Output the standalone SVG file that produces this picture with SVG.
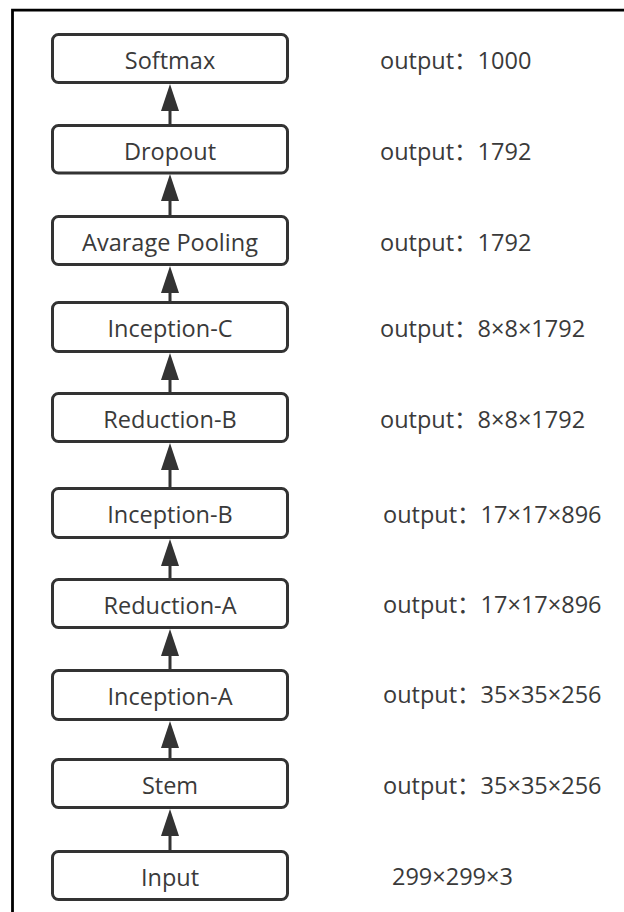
<svg xmlns="http://www.w3.org/2000/svg" width="624" height="912" viewBox="0 0 624 912">
<style>
  .box rect { fill: #ffffff; stroke: #333333; stroke-width: 3; }
  text { font-family: "Open Sans", "Noto Sans CJK SC", sans-serif; font-size: 23.5px; fill: #3a3a3a; }
  .lbl { text-anchor: middle; }
  .conn line { stroke: #333333; stroke-width: 3; }
  .conn polygon { fill: #333333; }
  .frame { stroke: #000000; stroke-width: 2.8; fill: none; }
</style>
<rect x="0" y="0" width="624" height="912" fill="#ffffff"/>
<path class="frame" d="M12.5 912 L12.5 10.2 L624 10.2"/>

<g id="connectors" class="conn">
  <line x1="170" y1="124" x2="170" y2="108"/><polygon points="170,84 161,111 179,111"/>
  <line x1="170" y1="215" x2="170" y2="198"/><polygon points="170,174 161,201 179,201"/>
  <line x1="170" y1="301" x2="170" y2="290"/><polygon points="170,266 161,293 179,293"/>
  <line x1="170" y1="392" x2="170" y2="377"/><polygon points="170,353 161,380 179,380"/>
  <line x1="170" y1="487" x2="170" y2="467"/><polygon points="170,443 161,470 179,470"/>
  <line x1="170" y1="578" x2="170" y2="563"/><polygon points="170,539 161,566 179,566"/>
  <line x1="170" y1="669" x2="170" y2="653"/><polygon points="170,629 161,656 179,656"/>
  <line x1="170" y1="758" x2="170" y2="745"/><polygon points="170,721 161,748 179,748"/>
  <line x1="170" y1="850" x2="170" y2="833"/><polygon points="170,809 161,836 179,836"/>
</g>

<g id="softmax" class="box"><rect x="52.5" y="34.5" width="235" height="48" rx="6"/><text class="lbl" x="170" y="69">Softmax</text></g>
<g id="dropout" class="box"><rect x="52.5" y="125.5" width="235" height="47.5" rx="6"/><text class="lbl" x="170" y="160">Dropout</text></g>
<g id="avgpool" class="box"><rect x="52.5" y="216.5" width="235" height="48" rx="6"/><text class="lbl" x="170" y="251">Avarage Pooling</text></g>
<g id="inception-c" class="box"><rect x="52.5" y="302.5" width="235" height="49" rx="6"/><text class="lbl" x="170" y="337">Inception-C</text></g>
<g id="reduction-b" class="box"><rect x="52.5" y="393.5" width="235" height="48" rx="6"/><text class="lbl" x="170" y="428">Reduction-B</text></g>
<g id="inception-b" class="box"><rect x="52.5" y="488.5" width="235" height="49" rx="6"/><text class="lbl" x="170" y="523">Inception-B</text></g>
<g id="reduction-a" class="box"><rect x="52.5" y="579.5" width="235" height="48" rx="6"/><text class="lbl" x="170" y="614">Reduction-A</text></g>
<g id="inception-a" class="box"><rect x="52.5" y="670.5" width="235" height="49" rx="6"/><text class="lbl" x="170" y="705">Inception-A</text></g>
<g id="stem" class="box"><rect x="52.5" y="759.5" width="235" height="48" rx="6"/><text class="lbl" x="170" y="794">Stem</text></g>
<g id="input" class="box"><rect x="52.5" y="851.5" width="235" height="48" rx="6"/><text class="lbl" x="170" y="886">Input</text></g>

<g id="outputs">
  <text x="380" y="69">output：1000</text>
  <text x="380" y="160">output：1792</text>
  <text x="380" y="251">output：1792</text>
  <text x="380" y="337">output：8×8×1792</text>
  <text x="380" y="428">output：8×8×1792</text>
  <text x="383" y="523">output：17×17×896</text>
  <text x="383" y="613">output：17×17×896</text>
  <text x="383" y="703">output：35×35×256</text>
  <text x="383" y="794">output：35×35×256</text>
  <text x="392" y="885">299×299×3</text>
</g>
</svg>
